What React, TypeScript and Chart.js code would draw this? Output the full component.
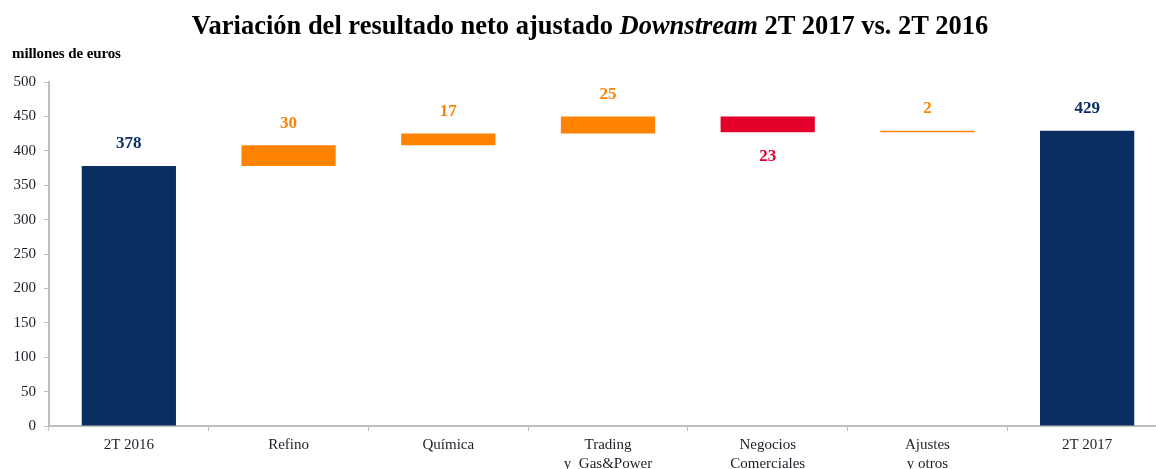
import React, { useEffect, useRef } from "react";
import { Chart, registerables } from "chart.js";

Chart.register(...registerables);

const categories: (string | string[])[] = [
  "2T 2016",
  "Refino",
  "Química",
  ["Trading", "y  Gas&Power"],
  ["Negocios", "Comerciales"],
  ["Ajustes", "y otros"],
  "2T 2017",
];
const values = [378, 30, 17, 25, -23, 2, 429];
const kinds = ["total", "up", "up", "up", "down", "up", "total"];
const labelTexts = ["378", "30", "17", "25", "23", "2", "429"];
const yTicks = [0, 50, 100, 150, 200, 250, 300, 350, 400, 450, 500];

const NAVY = "#0a2d62";
const ORANGE = "#ff8200";
const RED = "#e4002b";
const SERIF = "'Liberation Serif', 'Times New Roman', serif";

export default function App() {
  const ref = useRef<HTMLCanvasElement>(null);
  useEffect(() => {
    document.body.style.overflow = "hidden";
    const ranges: [number, number][] = [];
    let run = 0;
    values.forEach((v, i) => {
      if (kinds[i] === "total") {
        ranges.push([0, v]);
        run = v;
      } else {
        ranges.push([run, run + v]);
        run += v;
      }
    });
    const colors = kinds.map((k) => (k === "total" ? NAVY : k === "up" ? ORANGE : RED));

    const labelPlugin = {
      id: "wfLabels",
      afterDatasetsDraw(chart: any) {
        const ctx = chart.ctx;
        const meta = chart.getDatasetMeta(0);
        const y = chart.scales.y;
        ctx.save();
        ctx.font = `bold 17px ${SERIF}`;
        ctx.textAlign = "center";
        ctx.textBaseline = "middle";
        meta.data.forEach((bar: any, i: number) => {
          const [a, b] = ranges[i];
          const hi = Math.max(a, b);
          const lo = Math.min(a, b);
          ctx.fillStyle = colors[i];
          if (kinds[i] === "down") {
            ctx.fillText(labelTexts[i], bar.x, y.getPixelForValue(lo) + 24);
          } else {
            ctx.fillText(labelTexts[i], bar.x, y.getPixelForValue(hi) - 22);
          }
        });
        ctx.restore();
      },
    };

    const chart = new Chart(ref.current!, {
      type: "bar",
      data: {
        labels: categories,
        datasets: [
          {
            data: ranges as any,
            backgroundColor: colors,
            borderWidth: 0,
            borderSkipped: false,
            barPercentage: 0.59,
            categoryPercentage: 1,
          },
        ],
      },
      options: {
        animation: false,
        responsive: false,
        maintainAspectRatio: false,
        layout: { padding: { top: 82, right: 8, left: 0, bottom: 0 } },
        plugins: { legend: { display: false }, tooltip: { enabled: false }, title: { display: false } },
        scales: {
          x: {
            grid: {
              display: true,
              drawOnChartArea: false,
              drawTicks: true,
              tickLength: 5,
              color: "#bfbfbf",
              offset: true,
            },
            border: { color: "#bfbfbf", width: 2 },
            ticks: {
              color: "#1e1e2a",
              font: { family: SERIF, size: 15, lineHeight: 1.25 },
              padding: 5,
              maxRotation: 0,
              autoSkip: false,
            },
            afterFit: (s: any) => {
              s.height = 43;
            },
          },
          y: {
            min: 0,
            max: 500,
            afterBuildTicks: (s: any) => {
              s.ticks = yTicks.map((v) => ({ value: v }));
            },
            grid: {
              display: true,
              drawOnChartArea: false,
              drawTicks: true,
              tickLength: 5,
              color: "#bfbfbf",
            },
            border: { color: "#bfbfbf", width: 2 },
            ticks: {
              color: "#1e1e2a",
              font: { family: SERIF, size: 15 },
              padding: 8,
            },
            afterFit: (s: any) => {
              s.width = 49;
            },
          },
        },
      },
      plugins: [labelPlugin],
    });
    return () => chart.destroy();
  }, []);

  return (
    <div style={{ position: "fixed", left: 0, top: 0, width: 1175, height: 469, background: "#fff" }}>
      <canvas ref={ref} width={1175} height={469} style={{ position: "absolute", left: 0, top: 0 }} />
      <div
        style={{
          position: "absolute",
          left: 0,
          width: 1180,
          top: 10,
          textAlign: "center",
          fontFamily: SERIF,
          fontWeight: "bold",
          fontSize: 26.5,
          color: "#000",
          lineHeight: "30px",
          whiteSpace: "nowrap",
        }}
      >
        Variación del resultado neto ajustado <i>Downstream</i> 2T 2017 vs. 2T 2016
      </div>
      <div
        style={{
          position: "absolute",
          left: 12,
          top: 44,
          fontFamily: SERIF,
          fontWeight: "bold",
          fontSize: 15,
          letterSpacing: "-0.1px",
          color: "#000",
          lineHeight: "18px",
          whiteSpace: "nowrap",
        }}
      >
        millones de euros
      </div>
    </div>
  );
}
